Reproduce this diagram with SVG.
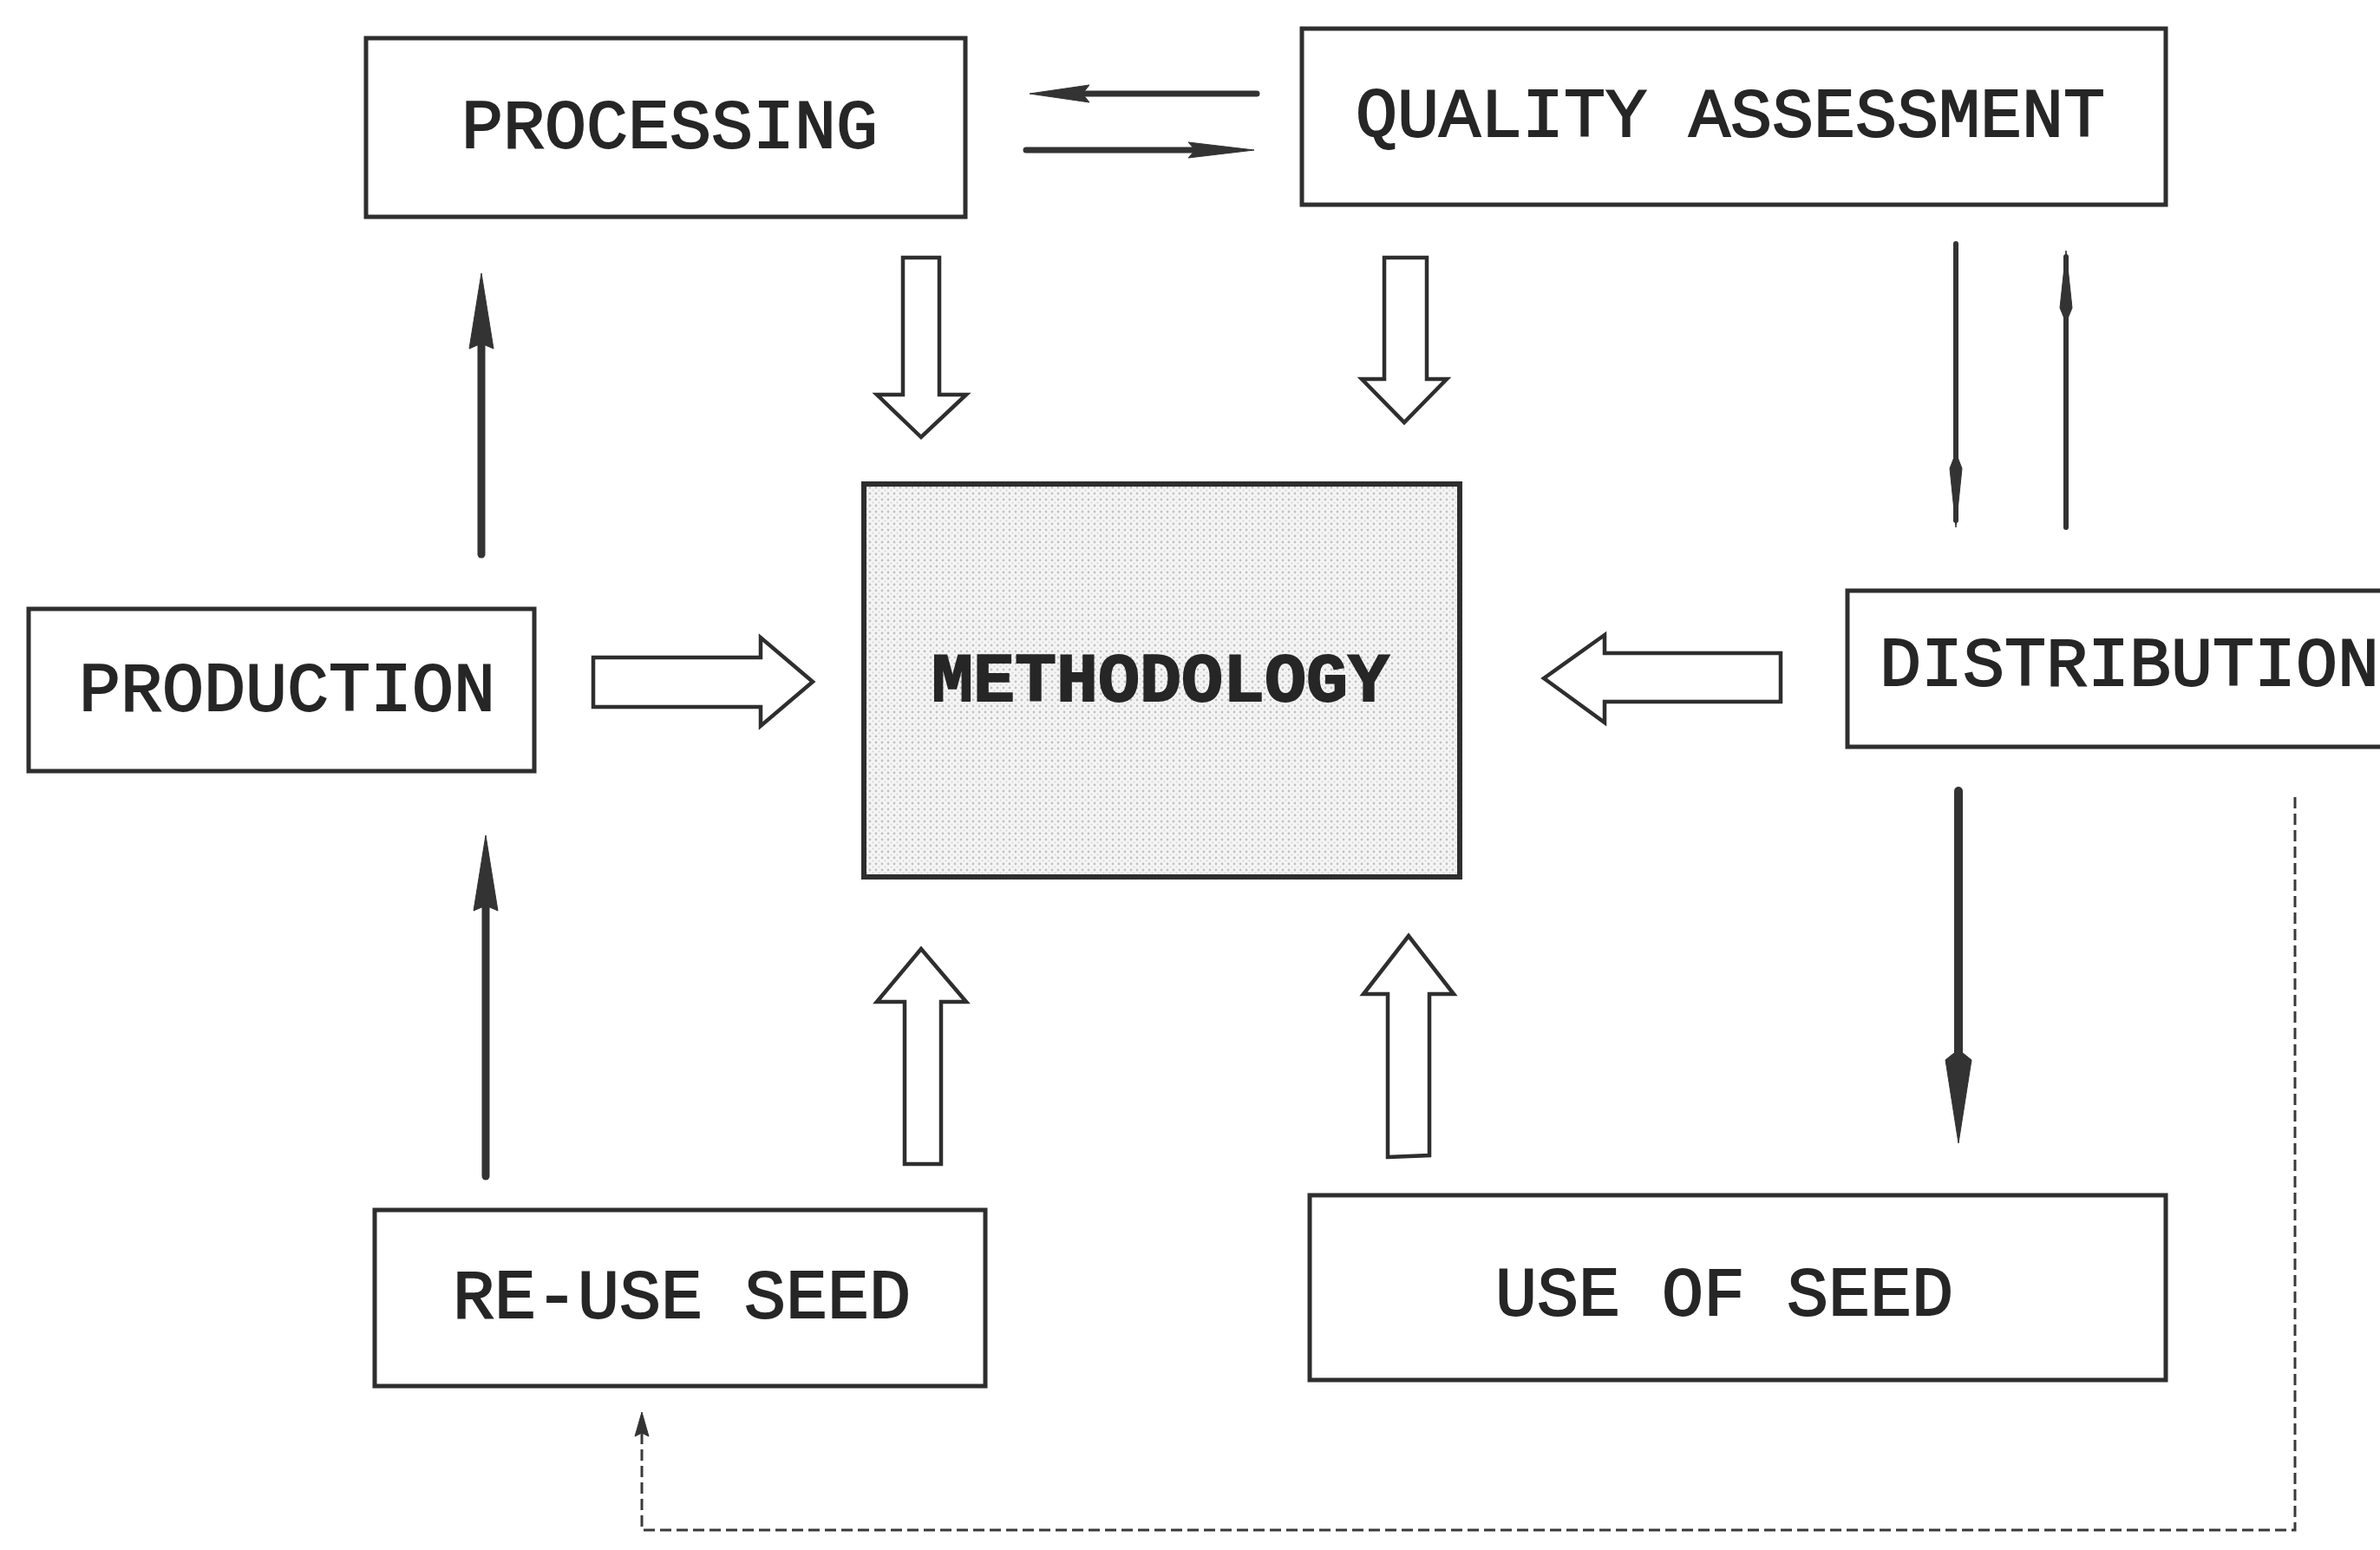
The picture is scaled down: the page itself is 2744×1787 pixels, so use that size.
<svg xmlns="http://www.w3.org/2000/svg" width="2744" height="1787" viewBox="0 0 2744 1787">
  <defs>
    <!-- fine dot screen used for the central box -->
    <pattern id="stipple" width="7" height="7" patternUnits="userSpaceOnUse">
      <rect width="7" height="7" fill="#f5f5f5"/>
      <circle cx="2" cy="2" r="1.4" fill="#c2c2c2"/>
      <circle cx="5.5" cy="5.5" r="1.1" fill="#d6d6d6"/>
    </pattern>
  </defs>
  <style>
    .box { fill: #ffffff; stroke: #2e2e2e; stroke-width: 5; }
    .core { fill: url(#stipple); stroke: #2e2e2e; stroke-width: 6; }
    .label { font-family: "Liberation Mono", "Courier New", monospace; font-size: 80px; fill: #262626; stroke: #262626; stroke-width: 1.8; }
    .hollow { fill: #ffffff; stroke: #2e2e2e; stroke-width: 4.5; stroke-linejoin: miter; }
    .line { fill: none; stroke: #333333; stroke-linecap: round; }
    .head { fill: #333333; stroke: #333333; stroke-width: 1; stroke-linejoin: round; }
    .dash { fill: none; stroke: #3a3a3a; stroke-width: 3; stroke-dasharray: 13 6; }
  </style>

  <rect width="2744" height="1787" fill="#ffffff"/>

  <!-- connectors -->
  <g id="connectors">
    <!-- processing <-> quality assessment -->
    <line class="line" x1="1449" y1="108" x2="1250" y2="108" stroke-width="7"/>
    <polygon class="head" points="1187,108 1256,98 1248,108 1256,118"/>
    <line class="line" x1="1183" y1="173" x2="1380" y2="173" stroke-width="7"/>
    <polygon class="head" points="1446,173 1370,164 1378,173 1370,182"/>

    <!-- production -> processing -->
    <line class="line" x1="555" y1="639" x2="555" y2="395" stroke-width="9"/>
    <polygon class="head" points="555,315 569,402 555,396 541,402"/>

    <!-- re-use seed -> production -->
    <line class="line" x1="560" y1="1356" x2="560" y2="1045" stroke-width="9"/>
    <polygon class="head" points="560,963 574,1050 560,1044 546,1050"/>

    <!-- quality assessment <-> distribution -->
    <line class="line" x1="2255" y1="281" x2="2255" y2="600" stroke-width="6"/>
    <polygon class="head" points="2255,608 2262,540 2255,522 2248,540"/>
    <line class="line" x1="2382" y1="608" x2="2382" y2="296" stroke-width="6"/>
    <polygon class="head" points="2382,289 2389,355 2382,372 2375,355"/>

    <!-- distribution -> use of seed -->
    <line class="line" x1="2258" y1="912" x2="2258" y2="1225" stroke-width="10"/>
    <polygon class="head" points="2258,1318 2273,1222 2258,1210 2243,1222"/>

    <!-- feedback: distribution back to re-use seed -->
    <path class="dash" d="M2646,919 V1764 H740 V1652"/>
    <polygon class="head" points="740,1628 748,1656 740,1652 732,1656"/>

    <!-- broad arrows into methodology -->
    <polygon class="hollow" points="1041,297 1083,297 1083,455 1114,455 1062,504 1011,455 1041,455"/>
    <polygon class="hollow" points="1596,297 1645,297 1645,437 1668,437 1619,487 1570,437 1596,437"/>
    <polygon class="hollow" points="1043,1342 1085,1342 1085,1155 1114,1155 1062,1094 1011,1155 1043,1155"/>
    <polygon class="hollow" points="1600,1334 1648,1332 1648,1146 1676,1146 1624,1079 1572,1146 1600,1146"/>
    <polygon class="hollow" points="684,758 877,758 877,735 937,786 877,837 877,815 684,815"/>
    <polygon class="hollow" points="2053,753 1850,753 1850,732 1780,782 1850,833 1850,809 2053,809"/>
  </g>

  <!-- nodes -->
  <g id="processing">
    <rect class="box" x="422" y="44" width="691" height="206"/>
    <text class="label" x="772" y="170" text-anchor="middle">PROCESSING</text>
  </g>
  <g id="quality-assessment">
    <rect class="box" x="1501" y="33" width="996" height="203"/>
    <text class="label" x="1995" y="157" text-anchor="middle">QUALITY ASSESSMENT</text>
  </g>
  <g id="production">
    <rect class="box" x="33" y="702" width="583" height="187"/>
    <text class="label" x="331" y="819" text-anchor="middle">PRODUCTION</text>
  </g>
  <g id="methodology">
    <rect class="core" x="996" y="558" width="687" height="453"/>
    <text class="label" x="1338" y="808" text-anchor="middle" font-weight="bold" stroke-width="1">METHODOLOGY</text>
  </g>
  <g id="distribution">
    <rect class="box" x="2130" y="681" width="640" height="180"/>
    <text class="label" x="2167" y="790">DISTRIBUTION</text>
  </g>
  <g id="re-use-seed">
    <rect class="box" x="432" y="1395" width="704" height="203"/>
    <text class="label" x="786" y="1519" text-anchor="middle">RE-USE SEED</text>
  </g>
  <g id="use-of-seed">
    <rect class="box" x="1510" y="1378" width="987" height="213"/>
    <text class="label" x="1988" y="1516" text-anchor="middle">USE OF SEED</text>
  </g>
</svg>
